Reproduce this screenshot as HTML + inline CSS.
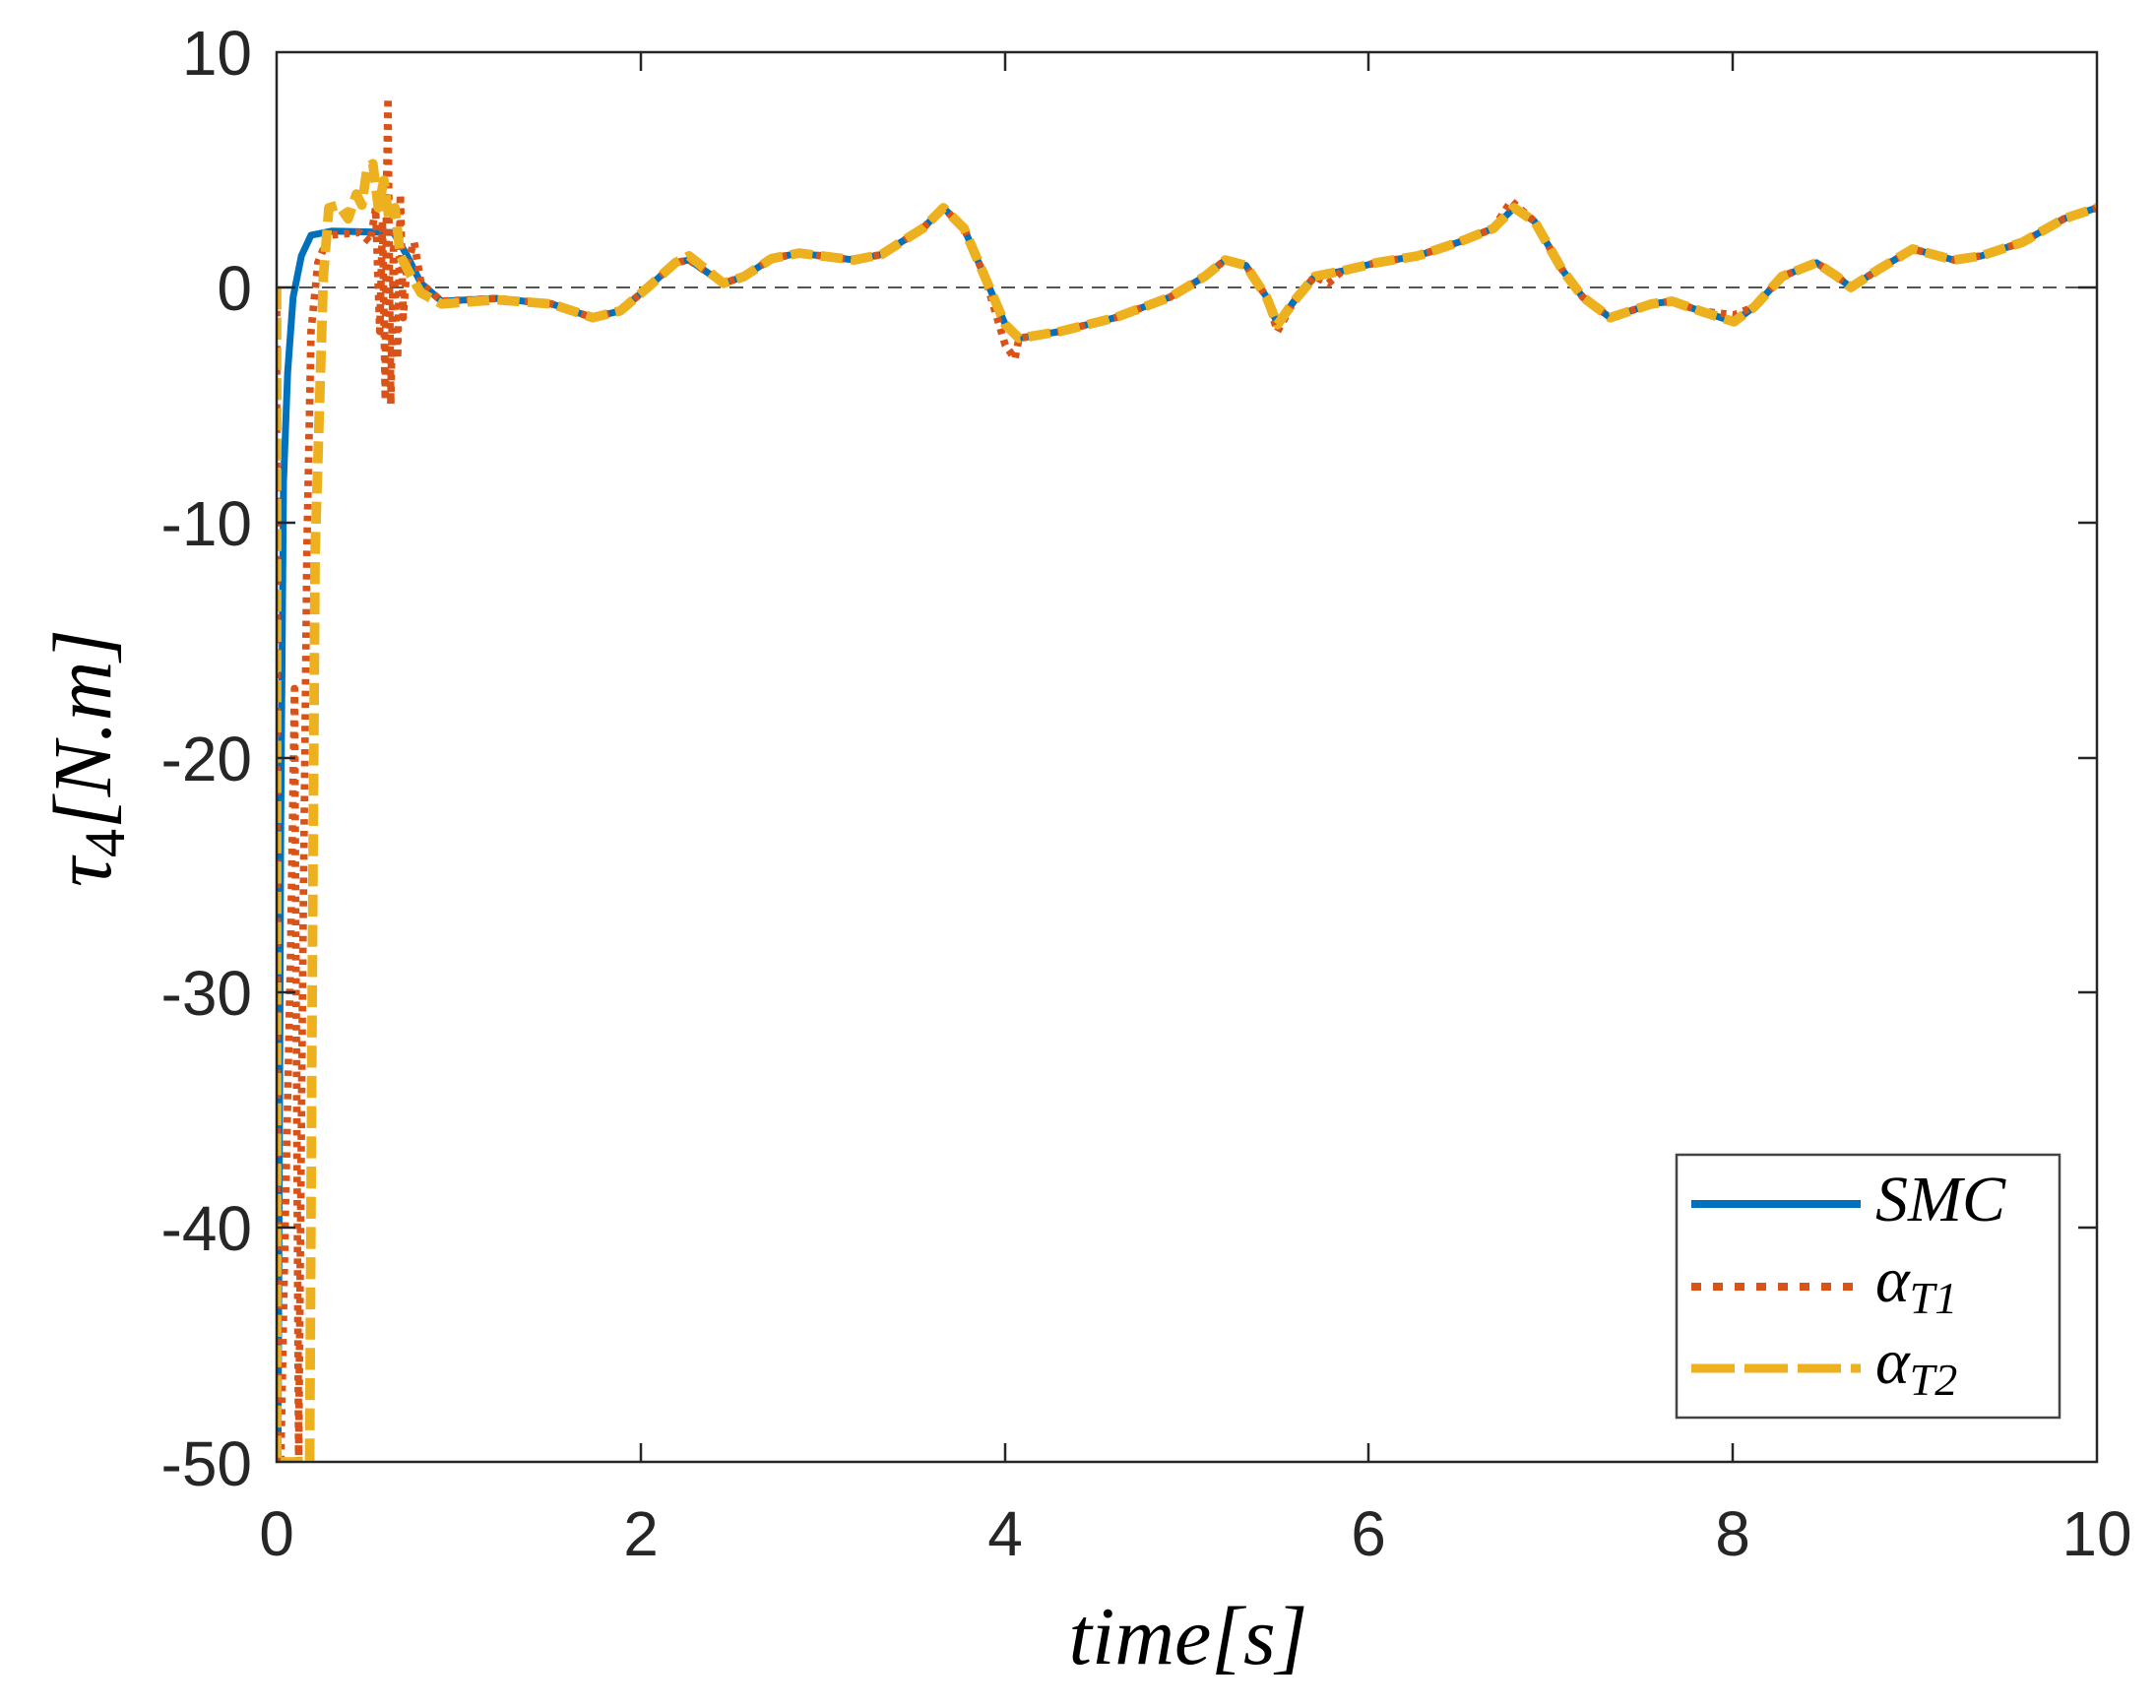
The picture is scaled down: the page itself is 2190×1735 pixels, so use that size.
<!DOCTYPE html>
<html><head><meta charset="utf-8"><style>
html,body{margin:0;padding:0;background:#fff;}
svg{display:block;}
text{font-family:"Liberation Sans",sans-serif;fill:#262626;}
.m{font-family:"Liberation Serif",serif;font-style:italic;fill:#000;}
</style></head><body>
<svg width="2190" height="1735" viewBox="0 0 2190 1735" xmlns="http://www.w3.org/2000/svg">
<rect width="2190" height="1735" fill="#fff"/>
<line x1="281" y1="292" x2="2130" y2="292" stroke="#555" stroke-width="2" stroke-dasharray="14,9"/>
<defs>
<clipPath id="c"><rect x="281" y="53" width="1849" height="1432"/></clipPath>
</defs>
<g clip-path="url(#c)">
<g transform="translate(1.7,1.77) scale(1.3965,1.3953)" fill="none" stroke-linejoin="round">
<polyline stroke="#0072BD" stroke-width="5" points="201,1063 203,600 205,350 208,270 212,215 218,185 225,170 240,167 285,168 295,185 305,205 320,218 360,216 400,220 430,230 450,225 470,208 490,190 500,188 525,205 540,200 560,187 580,183 620,188 640,184 670,165 685,150 700,165 715,200 730,235 740,245 770,240 810,230 850,215 875,200 890,188 905,192 920,215 928,235 940,218 955,200 975,196 1000,190 1030,185 1060,175 1085,165 1100,150 1115,160 1135,195 1150,215 1170,230 1200,220 1215,218 1235,225 1260,233 1275,222 1295,200 1320,190 1335,200 1345,208 1365,195 1390,180 1420,188 1440,185 1470,175 1500,158 1524,150"/>
<polyline stroke="#D95319" stroke-width="5.5" stroke-dasharray="4,4.5" points="200,208 200,1063 203,1063 206,900 210,700 213,500 216,1063 219,700 222,400 225,240 230,190 238,170 260,168 268,175 272,150 275,240 277,160 279,290 280,130 281,70 282,200 283,293 285,180 288,260 290,140 292,230 295,190 300,175 305,205 320,218 360,216 400,220 430,230 450,225 470,208 490,190 500,188 525,205 540,200 560,187 580,183 620,188 640,184 670,165 685,150 700,165 715,200 730,250 737,260 740,245 770,240 810,230 850,215 875,200 890,188 905,192 920,215 928,240 940,218 955,200 965,205 975,196 1000,190 1030,185 1060,175 1085,165 1098,145 1115,160 1135,195 1150,215 1170,230 1200,220 1215,218 1235,225 1260,228 1275,222 1295,200 1320,190 1335,200 1345,208 1365,195 1390,180 1420,188 1440,185 1470,175 1500,158 1524,150"/>
<polyline stroke="#EDB120" stroke-width="7" stroke-dasharray="16,6" points="200,208 200,1063 205,1063 218,1063 224,1063 226,700 228,400 231,300 234,200 238,150 245,148 252,158 258,140 262,148 266,120 270,118 274,150 278,130 282,160 286,150 290,185 298,200 305,212 320,220 360,217 400,220 430,230 450,225 470,208 490,190 500,185 525,205 540,200 560,187 580,183 620,188 640,184 670,165 685,150 700,165 715,200 730,235 740,245 770,240 810,230 850,215 875,200 890,188 905,192 920,215 928,235 940,218 955,200 975,196 1000,190 1030,185 1060,175 1085,165 1100,150 1115,160 1135,195 1150,215 1170,230 1200,220 1215,218 1235,225 1260,233 1275,222 1295,200 1320,190 1335,200 1345,208 1365,195 1390,180 1420,188 1440,185 1470,175 1500,158 1524,150"/>
</g>
</g>
<rect x="281" y="53" width="1849" height="1432" fill="none" stroke="#262626" stroke-width="2.5"/>
<g stroke="#262626" stroke-width="2.5">
<line x1="651" y1="1485" x2="651" y2="1466"/><line x1="651" y1="53" x2="651" y2="72"/>
<line x1="1021" y1="1485" x2="1021" y2="1466"/><line x1="1021" y1="53" x2="1021" y2="72"/>
<line x1="1390" y1="1485" x2="1390" y2="1466"/><line x1="1390" y1="53" x2="1390" y2="72"/>
<line x1="1760" y1="1485" x2="1760" y2="1466"/><line x1="1760" y1="53" x2="1760" y2="72"/>
<line x1="281" y1="292" x2="300" y2="292"/><line x1="2130" y1="292" x2="2111" y2="292"/>
<line x1="281" y1="531" x2="300" y2="531"/><line x1="2130" y1="531" x2="2111" y2="531"/>
<line x1="281" y1="770" x2="300" y2="770"/><line x1="2130" y1="770" x2="2111" y2="770"/>
<line x1="281" y1="1008" x2="300" y2="1008"/><line x1="2130" y1="1008" x2="2111" y2="1008"/>
<line x1="281" y1="1247" x2="300" y2="1247"/><line x1="2130" y1="1247" x2="2111" y2="1247"/>
</g>
<g font-size="64" text-anchor="middle">
<text x="281" y="1580">0</text>
<text x="651" y="1580">2</text>
<text x="1021" y="1580">4</text>
<text x="1390" y="1580">6</text>
<text x="1760" y="1580">8</text>
<text x="2130" y="1580">10</text>
</g>
<g font-size="64" text-anchor="end">
<text x="256" y="76">10</text>
<text x="256" y="315">0</text>
<text x="256" y="554">-10</text>
<text x="256" y="793">-20</text>
<text x="256" y="1031">-30</text>
<text x="256" y="1270">-40</text>
<text x="256" y="1509">-50</text>
</g>
<text class="m" x="1207" y="1690" font-size="84" text-anchor="middle">time[s]</text>
<text class="m" transform="translate(112,770) rotate(-90)" font-size="84" text-anchor="middle">τ<tspan font-size="58" dy="14" font-style="normal">4</tspan><tspan dy="-14">[N.m]</tspan></text>
<rect x="1703" y="1173" width="389" height="267" fill="#fff" stroke="#444" stroke-width="2.5"/>
<line x1="1718" y1="1223" x2="1890" y2="1223" stroke="#0072BD" stroke-width="8"/>
<line x1="1718" y1="1307" x2="1890" y2="1307" stroke="#D95319" stroke-width="8" stroke-dasharray="10,12"/>
<line x1="1718" y1="1390" x2="1890" y2="1390" stroke="#EDB120" stroke-width="9" stroke-dasharray="44,10"/>
<text class="m" x="1905" y="1240" font-size="66">SMC</text>
<text class="m" x="1905" y="1322" font-size="66">α<tspan font-size="46" dy="12">T1</tspan></text>
<text class="m" x="1905" y="1405" font-size="66">α<tspan font-size="46" dy="12">T2</tspan></text>
</svg>
</body></html>
